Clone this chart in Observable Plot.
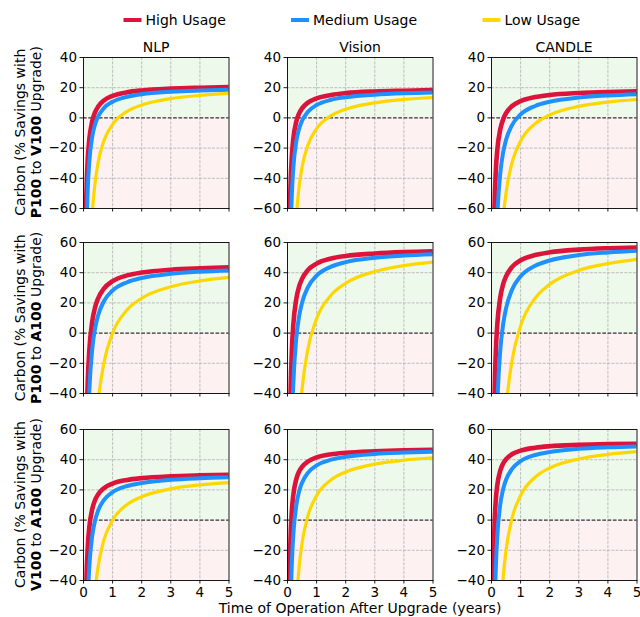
<!DOCTYPE html>
<html><head><meta charset="utf-8">
<script src="https://cdn.jsdelivr.net/npm/d3@7"></script>
<script src="https://cdn.jsdelivr.net/npm/@observablehq/plot@0.6"></script>
<style>
body{margin:0;background:#fff;font-family:"DejaVu Sans",sans-serif;}
#root{position:relative;width:640px;height:617px;overflow:hidden;background:#fff;}
.panel{position:absolute;}
.panel svg{background:transparent !important;max-width:none !important;overflow:visible;}
#overlay{position:absolute;left:0;top:0;pointer-events:none;}
</style></head><body><div id="root"></div>
<script>
// ---- data ----
const years = [0.05, 0.075, 0.1, 0.15, 0.2, 0.3, 0.4, 0.5, 0.7, 1, 1.5, 2, 3, 4, 5];
const usages = ["High Usage", "Medium Usage", "Low Usage"];
const workloads = ["NLP", "Vision", "CANDLE"];
const upgrades = [["P100", "V100"], ["P100", "A100"], ["V100", "A100"]];
const xTicks = [0, 1, 2, 3, 4, 5];
const yTicksRow1 = [-60, -40, -20, 0, 20, 40];
const yTicksRow23 = [-40, -20, 0, 20, 40, 60];

// P100 -> V100
const p100v100NlpHigh   = [-122.0,-74.1,-50.1,-26.1,-14.2,-2.2,3.8,7.4,11.5,14.6,17.0,18.2,19.4,20.0,20.4];
const p100v100NlpMed    = [-177.2,-111.3,-78.3,-45.3,-28.9,-12.4,-4.1,0.8,6.5,10.7,14.0,15.7,17.3,18.1,18.6];
const p100v100NlpLow    = [-489.9,-319.5,-234.3,-149.1,-106.5,-63.9,-42.6,-29.8,-15.2,-4.3,4.3,8.5,12.8,14.9,16.2];
const p100v100VisHigh   = [-114.3,-69.6,-47.3,-25.0,-13.8,-2.6,3.0,6.3,10.1,13.0,15.2,16.4,17.5,18.0,18.4];
const p100v100VisMed    = [-189.1,-119.8,-85.1,-50.4,-33.1,-15.8,-7.1,-1.9,4.0,8.5,12.0,13.7,15.4,16.3,16.8];
const p100v100VisLow    = [-494.8,-323.7,-238.1,-152.5,-109.8,-67.0,-45.6,-32.7,-18.1,-7.1,1.5,5.8,10.0,12.2,13.5];
const p100v100CanHigh   = [-142.0,-88.3,-61.4,-34.5,-21.1,-7.7,-1.0,3.1,7.7,11.1,13.8,15.2,16.5,17.2,17.6];
const p100v100CanMed    = [-317.1,-205.0,-149.0,-93.0,-65.0,-36.9,-22.9,-14.5,-4.9,2.3,7.9,10.7,13.5,14.9,15.7];
const p100v100CanLow    = [-668.5,-439.3,-324.7,-210.1,-152.8,-95.5,-66.9,-49.7,-30.0,-15.3,-3.8,1.9,7.6,10.5,12.2];
// P100 -> A100
const p100a100NlpHigh   = [-183.2,-106.9,-68.7,-30.5,-11.5,7.6,17.2,22.9,29.4,34.4,38.2,40.1,42.0,42.9,43.5];
const p100a100NlpMed    = [-286.8,-176.3,-121.0,-65.7,-38.1,-10.5,3.3,11.6,21.1,28.2,33.7,36.5,39.3,40.7,41.5];
const p100a100NlpLow    = [-875.9,-568.6,-414.9,-261.2,-184.4,-107.6,-69.2,-46.1,-19.8,0,15.4,23.1,30.7,34.6,36.9];
const p100a100VisHigh   = [-145.9,-78.6,-44.9,-11.2,5.6,22.4,30.9,35.9,41.7,46.0,49.4,51.1,52.7,53.6,54.1];
const p100a100VisMed    = [-301.9,-182.6,-123.0,-63.4,-33.6,-3.7,11.2,20.1,30.3,38.0,44.0,47.0,49.9,51.4,52.3];
const p100a100VisLow    = [-879.8,-567.7,-411.7,-255.7,-177.7,-99.6,-60.6,-37.2,-10.5,9.6,25.2,33.0,40.8,44.7,47.0];
const p100a100CanHigh   = [-152.8,-82.3,-47.0,-11.7,5.9,23.5,32.4,37.6,43.7,48.2,51.7,53.5,55.3,56.2,56.7];
const p100a100CanMed    = [-363.9,-223.0,-152.6,-82.2,-47.0,-11.7,5.9,16.4,28.5,37.6,44.6,48.1,51.7,53.4,54.5];
const p100a100CanLow    = [-1040.6,-673.8,-490.4,-307.0,-215.3,-123.6,-77.8,-50.2,-18.8,4.8,23.1,32.3,41.5,46.0,48.8];
// V100 -> A100
const v100a100NlpHigh   = [-113.0,-64.9,-40.8,-16.7,-4.7,7.3,13.4,17.0,21.1,24.2,26.6,27.8,29.0,29.6,30.0];
const v100a100NlpMed    = [-215.6,-133.5,-92.4,-51.3,-30.8,-10.3,0,6.2,13.2,18.5,22.6,24.6,26.7,27.7,28.3];
const v100a100NlpLow    = [-589,-382.3,-279,-175.7,-124,-72.3,-46.5,-31,-13.3,0,10.3,15.5,20.7,23.3,24.8];
const v100a100VisHigh   = [-76.3,-35.0,-14.3,6.4,16.7,27.0,32.2,35.3,38.8,41.5,43.6,44.6,45.6,46.2,46.5];
const v100a100VisMed    = [-180.8,-104.7,-66.6,-28.5,-9.5,9.5,19.1,24.8,31.3,36.2,40.0,41.9,43.8,44.7,45.3];
const v100a100VisLow    = [-580.8,-371.3,-266.6,-161.9,-109.5,-57.1,-31.0,-15.2,2.7,16.2,26.7,31.9,37.1,39.7,41.3];
const v100a100CanHigh   = [-62.1,-24.2,-5.2,13.8,23.3,32.7,37.5,40.3,43.6,46.0,47.9,48.9,49.8,50.3,50.6];
const v100a100CanMed    = [-194.9,-112.8,-71.8,-30.8,-10.3,10.3,20.5,26.7,33.7,39.0,43.1,45.1,47.2,48.2,48.8];
const v100a100CanLow    = [-673.2,-431.3,-310.3,-189.3,-128.9,-68.4,-38.1,-20.0,0.8,16.3,28.4,34.5,40.5,43.5,45.3];

const grid = [
  [[p100v100NlpHigh,p100v100NlpMed,p100v100NlpLow],[p100v100VisHigh,p100v100VisMed,p100v100VisLow],[p100v100CanHigh,p100v100CanMed,p100v100CanLow]],
  [[p100a100NlpHigh,p100a100NlpMed,p100a100NlpLow],[p100a100VisHigh,p100a100VisMed,p100a100VisLow],[p100a100CanHigh,p100a100CanMed,p100a100CanLow]],
  [[v100a100NlpHigh,v100a100NlpMed,v100a100NlpLow],[v100a100VisHigh,v100a100VisMed,v100a100VisLow],[v100a100CanHigh,v100a100CanMed,v100a100CanLow]]
];

// ---- style ----
const COLORS = ["#dc143c", "#1e90ff", "#ffd700"];
const WIDTHS = [4.6, 4, 3.2];
const GREEN = "#edf9ea", PINK = "#fdf1f1";
const colX = [83.3, 287.3, 491.3], rowY = [56.7, 242.3, 429.0];
const PW = 145.5, PH = 151;
const ML = 46, MR = 2, MT = 4, MBX = 24, MBN = 6;
const fmt = d => d < 0 ? "\u2212" + Math.abs(d) : String(d);

const root = document.getElementById("root");

function panel(series, yDomain, yTicks, showX) {
  const data = [];
  series.forEach((vals, i) => vals.forEach((v, j) => data.push({t: years[j], v, usage: usages[i]})));
  const bands = [
    {x1: 0, x2: 5, y1: 0, y2: yDomain[1], f: GREEN},
    {x1: 0, x2: 5, y1: yDomain[0], y2: 0, f: PINK}
  ];
  const gstyle = {stroke: "#b0b0b0", strokeOpacity: 1, strokeWidth: 0.8, strokeDasharray: "3,1.3"};
  const mb = showX ? MBX : MBN;
  return Plot.plot({
    width: ML + PW + MR, height: MT + PH + mb,
    marginLeft: ML, marginRight: MR, marginTop: MT, marginBottom: mb,
    x: {domain: [0, 5]}, y: {domain: yDomain},
    style: {fontFamily: "DejaVu Sans", fontSize: "13.5px", color: "#000", background: "transparent", overflow: "visible"},
    marks: [
      Plot.rect(bands, {x1: "x1", x2: "x2", y1: "y1", y2: "y2", fill: "f"}),
      Plot.gridX([1, 2, 3, 4], gstyle),
      Plot.gridY(yTicks.filter(d => d !== 0 && d !== yDomain[0] && d !== yDomain[1]), gstyle),
      Plot.ruleY([0], {stroke: "#000", strokeWidth: 1, strokeDasharray: "3.7,1.6"}),
      ...usages.map((u, i) => Plot.line(data.filter(d => d.usage === u), {
        x: "t", y: "v", stroke: COLORS[i], strokeWidth: WIDTHS[i], curve: "monotone-x", clip: true
      })),
      Plot.frame({stroke: "#000", strokeWidth: 0.9}),
      Plot.axisY(yTicks, {tickSize: 3.5, tickPadding: 3, fontSize: 13.5, label: null, tickFormat: fmt, strokeWidth: 0.9}),
      Plot.axisX(xTicks, {tickSize: 3.5, tickPadding: 3, fontSize: 13.5, label: null, tickFormat: showX ? (d => String(d)) : (() => ""), strokeWidth: 0.9})
    ]
  });
}

for (let r = 0; r < 3; r++) {
  for (let c = 0; c < 3; c++) {
    const yDomain = r === 0 ? [-60, 40] : [-40, 60];
    const yTicks = r === 0 ? yTicksRow1 : yTicksRow23;
    const div = document.createElement("div");
    div.className = "panel";
    div.style.left = (colX[c] - ML) + "px";
    div.style.top = (rowY[r] - MT) + "px";
    div.appendChild(panel(grid[r][c], yDomain, yTicks, r === 2));
    root.appendChild(div);
  }
}

// ---- overlay text: legend, titles, labels ----
const svg = d3.select(root).append("svg").attr("id", "overlay")
  .attr("width", 640).attr("height", 617)
  .style("font-family", "DejaVu Sans");

const legendX = [123.5, 291, 482.5];
usages.forEach((u, i) => {
  svg.append("line").attr("x1", legendX[i]).attr("x2", legendX[i] + 18)
    .attr("y1", 20).attr("y2", 20).attr("stroke", COLORS[i]).attr("stroke-width", 4);
  svg.append("text").attr("x", legendX[i] + 22).attr("y", 25.3)
    .attr("font-size", 14).attr("fill", "#000").text(u);
});

workloads.forEach((w, c) => {
  svg.append("text").attr("x", colX[c] + PW / 2).attr("y", 51.5)
    .attr("text-anchor", "middle").attr("font-size", 14).attr("fill", "#000").text(w);
});

upgrades.forEach((up, r) => {
  const cy = rowY[r] + PH / 2;
  const g = svg.append("g").attr("transform", `translate(0,${cy}) rotate(-90)`);
  g.append("text").attr("x", 0).attr("y", 24.5).attr("text-anchor", "middle")
    .attr("font-size", 14).attr("fill", "#000").text("Carbon (% Savings with");
  const t2 = g.append("text").attr("x", 0).attr("y", 40.5).attr("text-anchor", "middle")
    .attr("font-size", 14).attr("fill", "#000");
  t2.append("tspan").attr("font-weight", "bold").text(up[0]);
  t2.append("tspan").text(" to ");
  t2.append("tspan").attr("font-weight", "bold").text(up[1]);
  t2.append("tspan").text(" Upgrade)");
});

svg.append("text").attr("x", colX[1] + PW / 2).attr("y", 613)
  .attr("text-anchor", "middle").attr("font-size", 14).attr("fill", "#000")
  .text("Time of Operation After Upgrade (years)");
</script></body></html>
